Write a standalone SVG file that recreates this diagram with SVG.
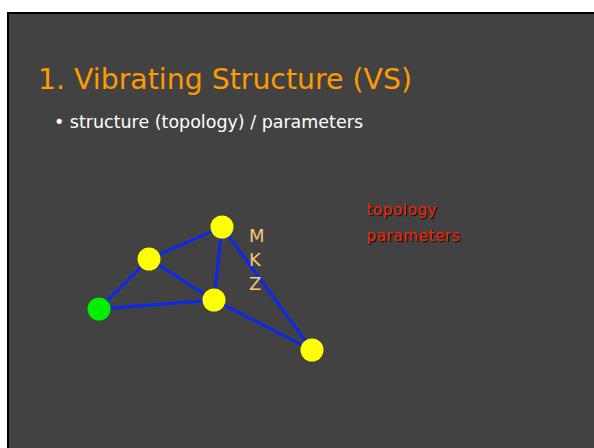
<svg xmlns="http://www.w3.org/2000/svg" width="594" height="448" viewBox="0 0 594 448">
<defs>
<style>
.edge{stroke:#0a28f0;stroke-width:3;fill:none}
.yel{fill:#ffff00}
.grn{fill:#00ee00}
.mkz{fill:#f5c878;font-family:"DejaVu Sans",sans-serif;font-size:18px}
.red{fill:#ff2200;font-family:"DejaVu Sans",sans-serif;font-size:15px}
</style>
<filter id="sh" x="-10%" y="-10%" width="130%" height="140%"><feDropShadow dx="1.2" dy="1.2" stdDeviation="0.3" flood-color="#000" flood-opacity="0.8"/></filter>
</defs>
<rect x="0" y="0" width="594" height="448" fill="#ffffff"/>
<rect x="8" y="13" width="600" height="450" fill="#424242" stroke="#000" stroke-width="2"/>
<text x="38" y="89" fill="#ff9a00" font-family="'Comic Sans MS','DejaVu Sans',sans-serif" font-size="29" textLength="374" lengthAdjust="spacingAndGlyphs">1. Vibrating Structure (VS)</text>
<text x="54" y="128" fill="#ffffff" font-family="'DejaVu Sans',sans-serif" font-size="18" textLength="309" lengthAdjust="spacingAndGlyphs">• structure (topology) / parameters</text>
<g id="connectors">
<line class="edge" x1="99" y1="309" x2="149" y2="259"/>
<line class="edge" x1="149" y1="259" x2="222" y2="227"/>
<line class="edge" x1="149" y1="259" x2="214" y2="300"/>
<line class="edge" x1="99" y1="309" x2="214" y2="300"/>
<line class="edge" x1="222" y1="227" x2="214" y2="300"/>
<line class="edge" x1="222" y1="227" x2="312" y2="350"/>
<line class="edge" x1="214" y1="300" x2="312" y2="350"/>
</g>
<g id="n1"><circle class="grn" cx="99" cy="309" r="11.5"/></g>
<g id="n2"><circle class="yel" cx="149" cy="259" r="11.5"/></g>
<g id="n3"><circle class="yel" cx="222" cy="227" r="11.5"/></g>
<g id="n4"><circle class="yel" cx="214" cy="300" r="11.5"/></g>
<g id="n5"><circle class="yel" cx="312" cy="350" r="11.5"/></g>
<g id="mkz">
<text class="mkz" x="249" y="242">M</text>
<text class="mkz" x="249" y="266">K</text>
<text class="mkz" x="249" y="290">Z</text>
</g>
<g id="labels" filter="url(#sh)">
<text class="red" x="367" y="215" textLength="70" lengthAdjust="spacing">topology</text>
<text class="red" x="367" y="241" textLength="93" lengthAdjust="spacing">parameters</text>
</g>
</svg>
